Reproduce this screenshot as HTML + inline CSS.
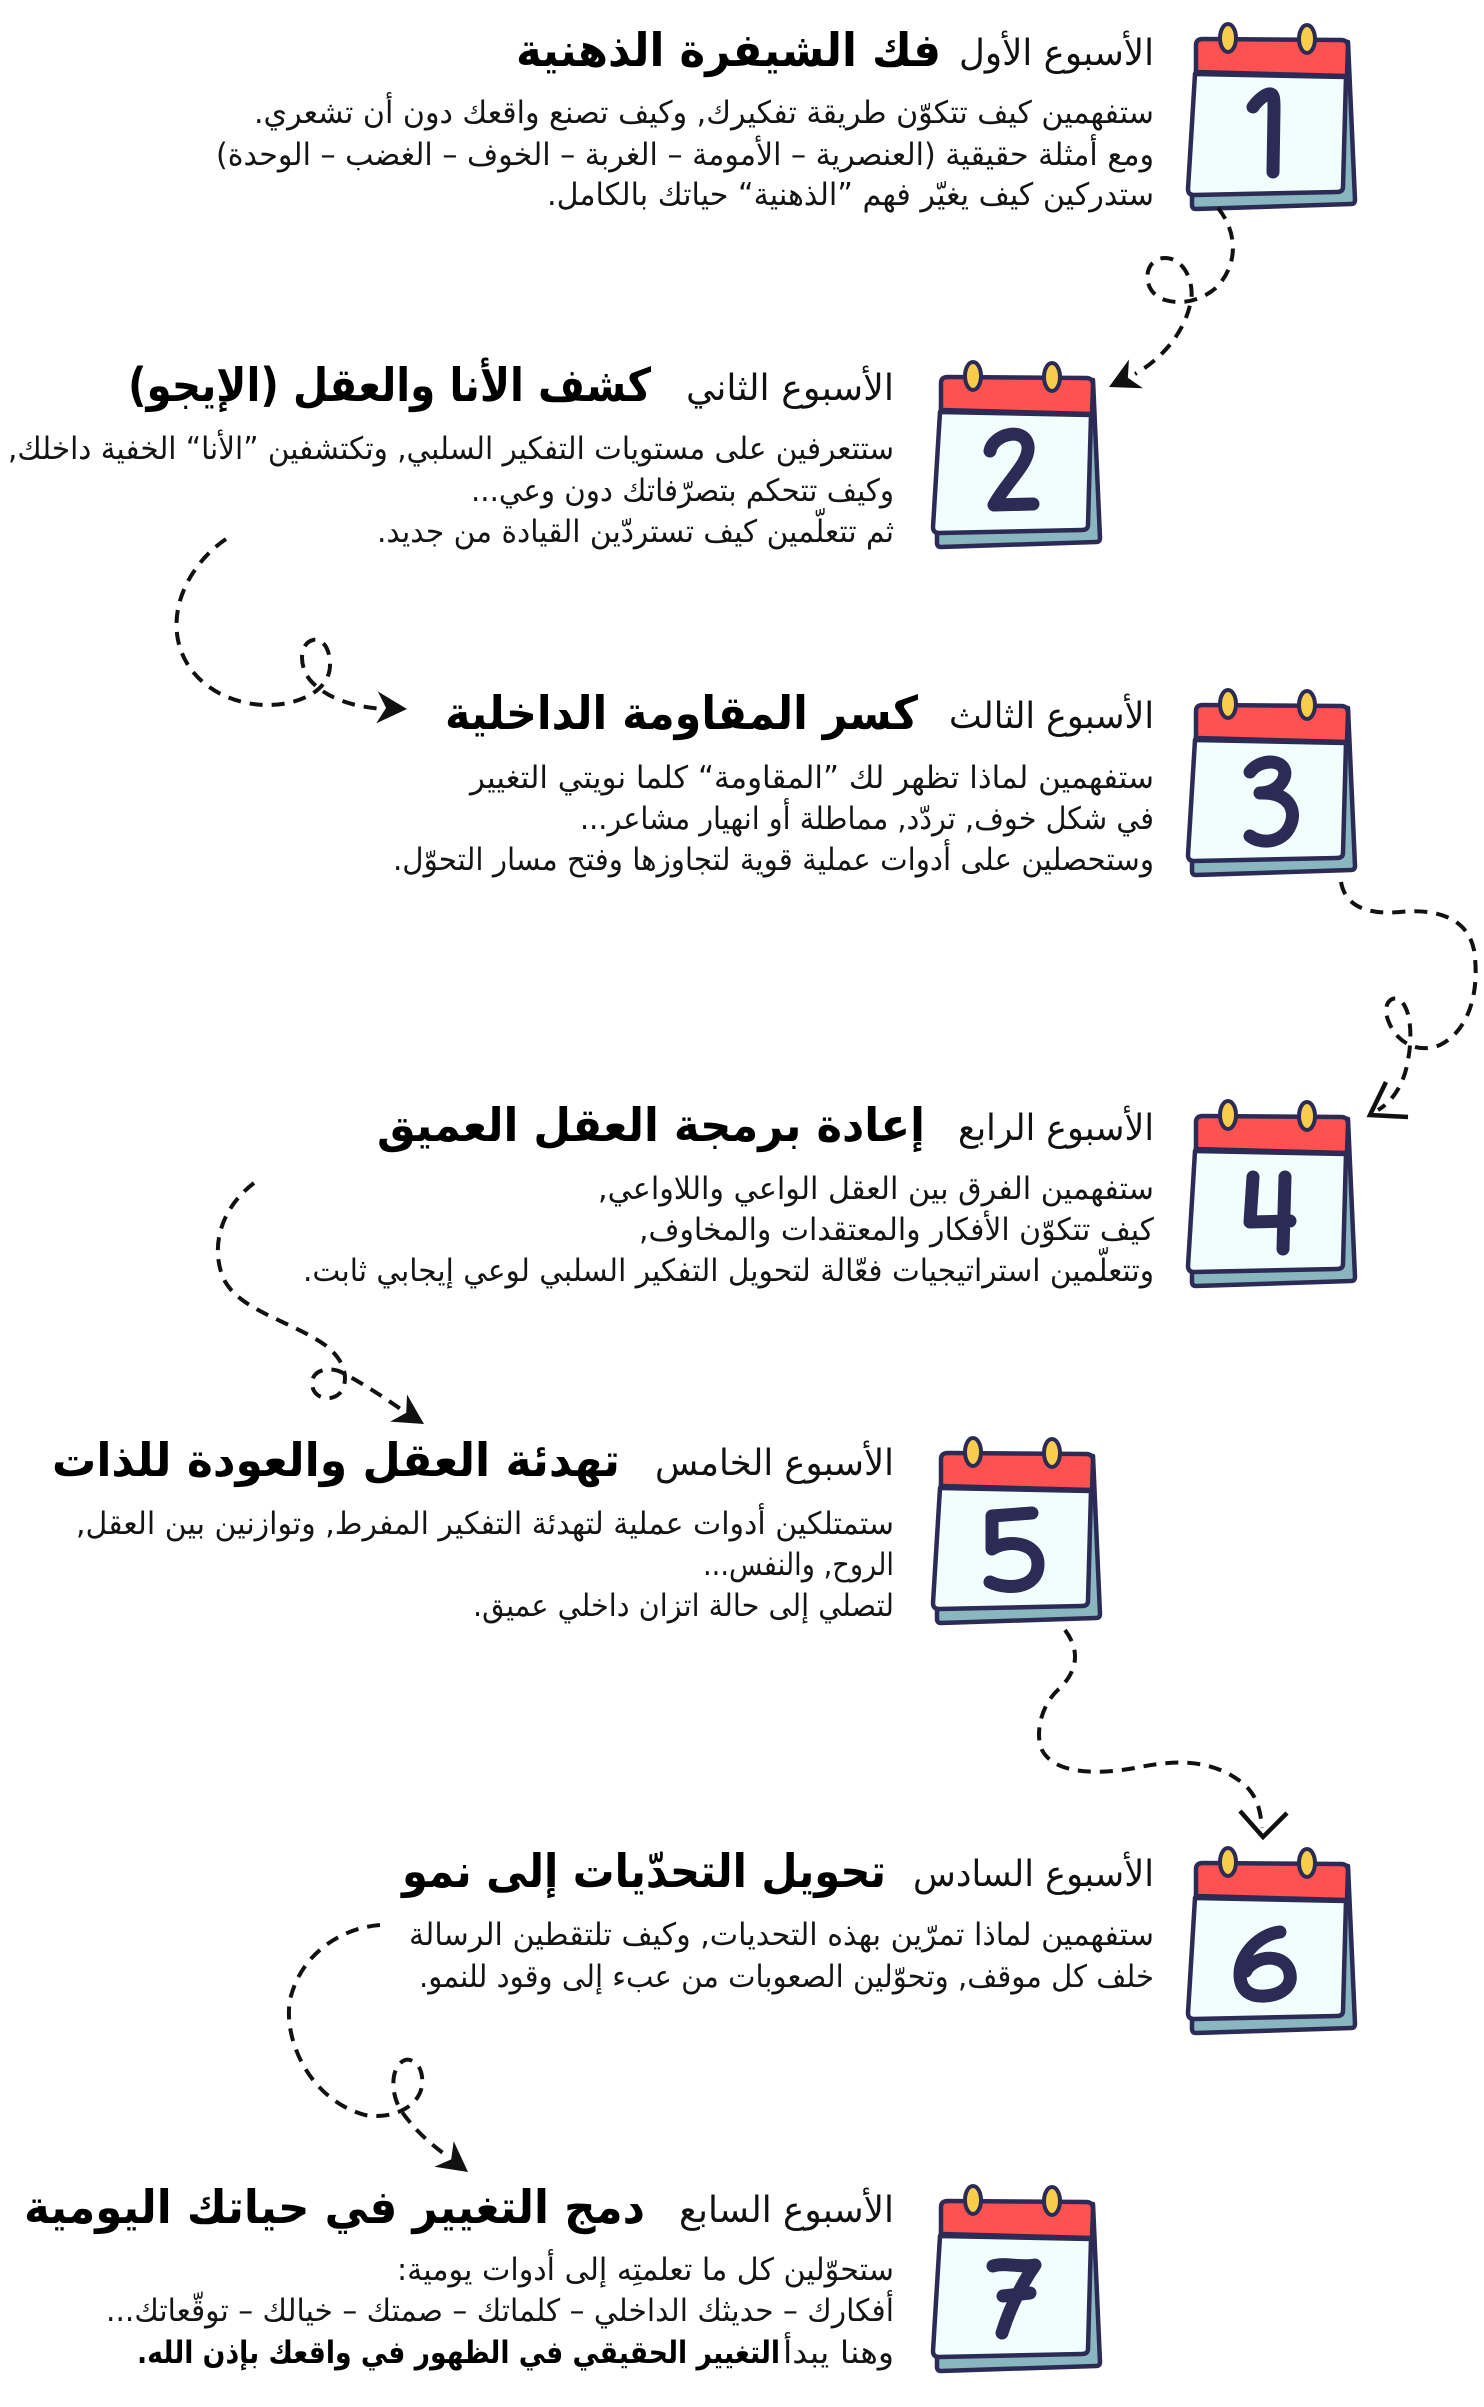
<!DOCTYPE html>
<html><head><meta charset="utf-8">
<style>
html,body{margin:0;padding:0;background:#fff;}
svg{display:block;}
.t{font-family:"DejaVu Sans",sans-serif;direction:rtl;unicode-bidi:embed;text-anchor:start;}
.lt{font-size:36px;fill:#111;}
.bd{font-size:46px;font-weight:bold;fill:#000;}
.bo{font-size:31px;fill:#141414;}
.bb{font-size:31px;font-weight:bold;fill:#000;}
.d{fill:none;stroke:#111;stroke-width:4;stroke-dasharray:13 9;stroke-linecap:butt;}
.num{fill:none;stroke:#2b2b55;stroke-width:13;stroke-linecap:round;stroke-linejoin:round;}
</style></head>
<body>
<svg width="1484" height="2407" viewBox="0 0 1484 2407" xmlns="http://www.w3.org/2000/svg">
<defs>
<g id="cal">
  <path d="M1197,44 L1348,42 L1355,200 Q1355,204 1351,204 L1196,209 Q1192,209 1192,205 L1192,190 Z" fill="#8ab6bf" stroke="#2b2b55" stroke-width="4.5" stroke-linejoin="round"/>
  <path d="M1196,72 L1196,45 Q1196,39 1203,39 L1341,40 Q1348,40 1348,47 L1347,76 Z" fill="#fe5252" stroke="#2b2b55" stroke-width="4.5" stroke-linejoin="round"/>
  <path d="M1195,74 L1346,77 L1343,187 Q1343,192 1337,192 L1194,195 Q1188,195 1188,189 Z" fill="#f2fefe" stroke="#2b2b55" stroke-width="4.5" stroke-linejoin="round"/>
  <ellipse cx="1228" cy="38" rx="8" ry="14" fill="#f8cd4c" stroke="#2b2b55" stroke-width="4"/>
  <ellipse cx="1307" cy="39" rx="8" ry="14" fill="#f8cd4c" stroke="#2b2b55" stroke-width="4"/>
</g>
<path id="dart" d="M0,0 L-30,-16 L-21,0 L-30,16 Z" fill="#111"/>
</defs>

<!-- Calendars -->
<g>
  <use href="#cal"/>
  <path class="num" d="M1253,107 C1258,100 1266,93 1271,94 C1274,95 1274,100 1274,110 L1273,172"/>
</g>
<g transform="translate(-255,338)">
  <use href="#cal"/>
  <path class="num" d="M1245,113 C1248,96 1280,88 1283,108 C1285,125 1262,143 1249,167 L1288,166"/>
</g>
<g transform="translate(0,666)">
  <use href="#cal"/>
  <path class="num" d="M1250,106 C1262,90 1290,94 1284,112 C1280,122 1270,127 1260,127 C1290,126 1297,145 1290,160 C1282,178 1260,178 1250,170"/>
</g>
<g transform="translate(0,1077)">
  <use href="#cal"/>
  <path class="num" d="M1253,100 L1250,145 L1290,144 M1285,100 L1283,172"/>
</g>
<g transform="translate(-255,1414)">
  <use href="#cal"/>
  <path class="num" d="M1287,99 L1247,102 L1247,135 C1262,125 1293,128 1293,150 C1293,175 1262,176 1245,168"/>
</g>
<g transform="translate(0,1824)">
  <use href="#cal"/>
  <path class="num" d="M1280,108 C1260,110 1240,130 1240,150 C1240,168 1252,173 1265,172 C1282,171 1292,162 1290,150 C1288,135 1270,130 1255,138 C1250,141 1247,144 1246,147"/>
</g>
<g transform="translate(-255,2162)">
  <use href="#cal"/>
  <path class="num" d="M1248,104 C1260,100 1275,106 1290,103 C1278,120 1265,145 1257,171 M1258,134 L1285,131"/>
</g>

<!-- Connectors -->
<path class="d" d="M1218,208 C1236,230 1240,262 1217,287 C1205,298 1185,306 1165,300 C1140,292 1143,258 1165,258 C1185,258 1196,285 1190,305 C1183,335 1160,360 1135,374"/>
<use href="#dart" transform="translate(1109,387) rotate(154)"/>

<path class="d" d="M226,539 C195,560 170,600 178,640 C186,680 225,705 268,705 C300,705 330,690 330,665 C330,645 320,638 313,640 C300,643 298,665 310,680 C325,697 350,707 385,709"/>
<use href="#dart" transform="translate(407,709) rotate(3)"/>

<path class="d" d="M1341,882 C1345,905 1365,915 1400,912 C1440,908 1468,920 1474,950 C1480,990 1470,1030 1440,1045 C1415,1055 1395,1040 1388,1020 C1382,1003 1392,995 1400,1000 C1412,1010 1412,1040 1408,1060 C1405,1080 1395,1100 1378,1110"/>
<path d="M1386,1082 L1370,1115 L1408,1117" fill="none" stroke="#111" stroke-width="4.5" stroke-linejoin="miter"/>

<path class="d" d="M254,1183 C225,1205 210,1240 222,1275 C235,1310 290,1320 325,1345 C345,1360 350,1380 340,1393 C330,1403 312,1398 312,1383 C312,1370 330,1365 345,1374 C365,1385 385,1398 402,1410"/>
<use href="#dart" transform="translate(424,1424) rotate(32)"/>

<path class="d" d="M1065,1630 C1080,1650 1078,1670 1060,1688 C1040,1705 1035,1735 1042,1750 C1055,1775 1100,1775 1140,1767 C1180,1759 1215,1760 1245,1785 C1255,1795 1260,1805 1262,1828"/>
<path d="M1240,1811 L1263,1837 L1287,1813" fill="none" stroke="#111" stroke-width="4.5"/>

<path class="d" d="M380,1925 C340,1928 300,1955 290,2000 C283,2040 310,2100 365,2115 C395,2120 420,2105 422,2085 C424,2065 412,2058 405,2060 C390,2066 390,2095 402,2112 C415,2130 428,2142 447,2156"/>
<use href="#dart" transform="translate(468,2172) rotate(37)"/>

<!-- Section 1 -->
<text class="t lt" x="1154" y="65" textLength="195" lengthAdjust="spacingAndGlyphs">الأسبوع الأول</text>
<text class="t bd" x="941" y="66" textLength="425" lengthAdjust="spacingAndGlyphs">فك الشيفرة الذهنية</text>
<text class="t bo" x="1154" y="123" textLength="900" lengthAdjust="spacingAndGlyphs">ستفهمين كيف تتكوّن طريقة تفكيرك, وكيف تصنع واقعك دون أن تشعري.</text>
<text class="t bo" x="1154" y="165" textLength="938" lengthAdjust="spacingAndGlyphs">ومع أمثلة حقيقية (العنصرية – الأمومة – الغربة – الخوف – الغضب – الوحدة)</text>
<text class="t bo" x="1154" y="205" textLength="607" lengthAdjust="spacingAndGlyphs">ستدركين كيف يغيّر فهم ”الذهنية“ حياتك بالكامل.</text>

<!-- Section 2 -->
<text class="t lt" x="894" y="400" textLength="208" lengthAdjust="spacingAndGlyphs">الأسبوع الثاني</text>
<text class="t bd" x="651" y="401" textLength="523" lengthAdjust="spacingAndGlyphs">كشف الأنا والعقل (الإيجو)</text>
<text class="t bo" x="894" y="459" textLength="886" lengthAdjust="spacingAndGlyphs">ستتعرفين على مستويات التفكير السلبي, وتكتشفين ”الأنا“ الخفية داخلك,</text>
<text class="t bo" x="894" y="501" textLength="423" lengthAdjust="spacingAndGlyphs">وكيف تتحكم بتصرّفاتك دون وعي...</text>
<text class="t bo" x="894" y="542" textLength="517" lengthAdjust="spacingAndGlyphs">ثم تتعلّمين كيف تستردّين القيادة من جديد.</text>

<!-- Section 3 -->
<text class="t lt" x="1154" y="728" textLength="205" lengthAdjust="spacingAndGlyphs">الأسبوع الثالث</text>
<text class="t bd" x="918" y="729" textLength="473" lengthAdjust="spacingAndGlyphs">كسر المقاومة الداخلية</text>
<text class="t bo" x="1154" y="788" textLength="684" lengthAdjust="spacingAndGlyphs">ستفهمين لماذا تظهر لك ”المقاومة“ كلما نويتي التغيير</text>
<text class="t bo" x="1154" y="829" textLength="574" lengthAdjust="spacingAndGlyphs">في شكل خوف, تردّد, مماطلة أو انهيار مشاعر...</text>
<text class="t bo" x="1154" y="870" textLength="761" lengthAdjust="spacingAndGlyphs">وستحصلين على أدوات عملية قوية لتجاوزها وفتح مسار التحوّل.</text>

<!-- Section 4 -->
<text class="t lt" x="1154" y="1140" textLength="196" lengthAdjust="spacingAndGlyphs">الأسبوع الرابع</text>
<text class="t bd" x="925" y="1141" textLength="548" lengthAdjust="spacingAndGlyphs">إعادة برمجة العقل العميق</text>
<text class="t bo" x="1154" y="1199" textLength="556" lengthAdjust="spacingAndGlyphs">ستفهمين الفرق بين العقل الواعي واللاواعي,</text>
<text class="t bo" x="1154" y="1240" textLength="515" lengthAdjust="spacingAndGlyphs">كيف تتكوّن الأفكار والمعتقدات والمخاوف,</text>
<text class="t bo" x="1154" y="1281" textLength="851" lengthAdjust="spacingAndGlyphs">وتتعلّمين استراتيجيات فعّالة لتحويل التفكير السلبي لوعي إيجابي ثابت.</text>

<!-- Section 5 -->
<text class="t lt" x="894" y="1475" textLength="239" lengthAdjust="spacingAndGlyphs">الأسبوع الخامس</text>
<text class="t bd" x="620" y="1476" textLength="568" lengthAdjust="spacingAndGlyphs">تهدئة العقل والعودة للذات</text>
<text class="t bo" x="894" y="1534" textLength="818" lengthAdjust="spacingAndGlyphs">ستمتلكين أدوات عملية لتهدئة التفكير المفرط, وتوازنين بين العقل,</text>
<text class="t bo" x="894" y="1575" textLength="191" lengthAdjust="spacingAndGlyphs">الروح, والنفس...</text>
<text class="t bo" x="894" y="1616" textLength="421" lengthAdjust="spacingAndGlyphs">لتصلي إلى حالة اتزان داخلي عميق.</text>

<!-- Section 6 -->
<text class="t lt" x="1154" y="1886" textLength="241" lengthAdjust="spacingAndGlyphs">الأسبوع السادس</text>
<text class="t bd" x="886" y="1887" textLength="484" lengthAdjust="spacingAndGlyphs">تحويل التحدّيات إلى نمو</text>
<text class="t bo" x="1154" y="1945" textLength="745" lengthAdjust="spacingAndGlyphs">ستفهمين لماذا تمرّين بهذه التحديات, وكيف تلتقطين الرسالة</text>
<text class="t bo" x="1154" y="1987" textLength="735" lengthAdjust="spacingAndGlyphs">خلف كل موقف, وتحوّلين الصعوبات من عبء إلى وقود للنمو.</text>

<!-- Section 7 -->
<text class="t lt" x="894" y="2222" textLength="215" lengthAdjust="spacingAndGlyphs">الأسبوع السابع</text>
<text class="t bd" x="645" y="2223" textLength="621" lengthAdjust="spacingAndGlyphs">دمج التغيير في حياتك اليومية</text>
<text class="t bo" x="894" y="2280" textLength="497" lengthAdjust="spacingAndGlyphs">ستحوّلين كل ما تعلمتِه إلى أدوات يومية:</text>
<text class="t bo" x="894" y="2321" textLength="788" lengthAdjust="spacingAndGlyphs">أفكارك – حديثك الداخلي – كلماتك – صمتك – خيالك – توقّعاتك...</text>
<text class="t bo" x="894" y="2363" textLength="111" lengthAdjust="spacingAndGlyphs">وهنا يبدأ</text>
<text class="t bb" x="780" y="2363" textLength="643" lengthAdjust="spacingAndGlyphs">التغيير الحقيقي في الظهور في واقعك بإذن الله.</text>
</svg>
</body></html>
